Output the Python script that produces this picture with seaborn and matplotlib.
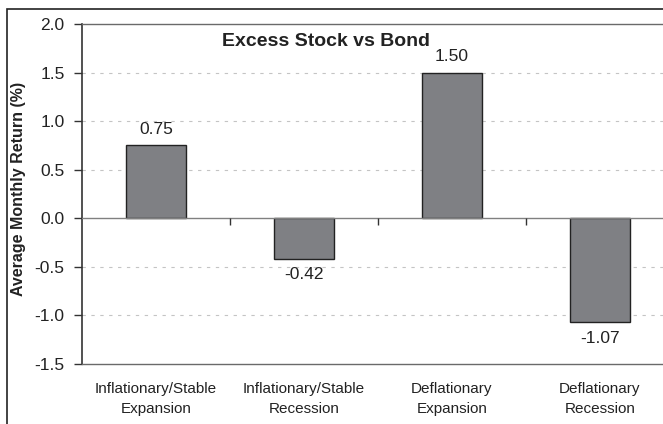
import matplotlib
matplotlib.use("Agg")
import matplotlib.pyplot as plt
from matplotlib.patches import Rectangle
import seaborn as sns
import pandas as pd

# DATA ------------------------------------------------------------------------------------
categories = ["Inflationary/Stable\nExpansion", "Inflationary/Stable\nRecession",
              "Deflationary\nExpansion", "Deflationary\nRecession"]
returns = [0.75, -0.42, 1.50, -1.07]
value_labels = ["0.75", "-0.42", "1.50", "-1.07"]
y_ticks = [-1.5, -1.0, -0.5, 0.0, 0.5, 1.0, 1.5, 2.0]

df = pd.DataFrame({"regime": categories, "ret": returns})

# STYLE -----------------------------------------------------------------------------------
sns.set_style("white")
plt.rcParams["font.family"] = ["Liberation Sans", "DejaVu Sans"]

fig = plt.figure(figsize=(6.63, 4.24), dpi=100)
ax = fig.add_axes([82 / 663, 60 / 424, 592 / 663, 340 / 424])

sns.barplot(data=df, x="regime", y="ret", color="#7f8084", edgecolor="#222222",
            linewidth=1.0, width=0.405, saturation=1, ax=ax)

# value labels above / below bars
ax.bar_label(ax.containers[0], labels=value_labels, padding=6, fontsize=12.5, color="#222222")

# axes limits and ticks
ax.set_xlim(-0.5, len(categories) - 0.5)
ax.set_ylim(y_ticks[0], y_ticks[-1])
ax.set_yticks(y_ticks)
ax.set_yticklabels([f"{t:.1f}" for t in y_ticks])
ax.tick_params(axis="y", direction="out", length=5.5, width=1, color="#333333",
               pad=7, labelsize=12.5, labelcolor="#222222", left=True)
ax.tick_params(axis="x", length=0, pad=13, labelsize=11, labelcolor="#222222")
for lab in ax.get_xticklabels():
    lab.set_linespacing(1.5)

# dotted grid
for t in y_ticks[1:-1]:
    if t != 0:
        ax.axhline(t, color="#c4c4c4", linewidth=0.8, linestyle=(0, (3, 5)), zorder=0)
ax.axhline(0, color="#808080", linewidth=1.0, zorder=3)
# small category separator ticks on the zero line
ax.vlines([i + 0.5 for i in range(len(categories) - 1)], 0, -0.065,
          color="#333333", linewidth=1.0, zorder=3)

# spines
for side in ["top", "bottom"]:
    ax.spines[side].set_color("#6a6a6a")
    ax.spines[side].set_linewidth(1.0)
ax.spines["left"].set_color("#333333")
ax.spines["left"].set_linewidth(1.2)
ax.spines["right"].set_visible(False)

ax.set_xlabel("")
ax.set_ylabel("Average Monthly Return (%)", fontsize=11.5, fontweight="bold", color="#222222")
ax.yaxis.set_label_coords((19 - 82) / 592, 0.515)
ax.yaxis.label.set_va("center")

ax.text((326 - 82) / 592, (364 - 46) / 340, "Excess Stock vs Bond", transform=ax.transAxes,
        ha="center", va="baseline", fontsize=14, fontweight="bold", color="#222222")

# outer frame
fig.patches.append(Rectangle((7 / 663, -0.1), 1.2, 1.1 - 9 / 424, transform=fig.transFigure,
                             fill=False, edgecolor="#222222", linewidth=1.2))

fig.savefig("out.png", dpi=100)
